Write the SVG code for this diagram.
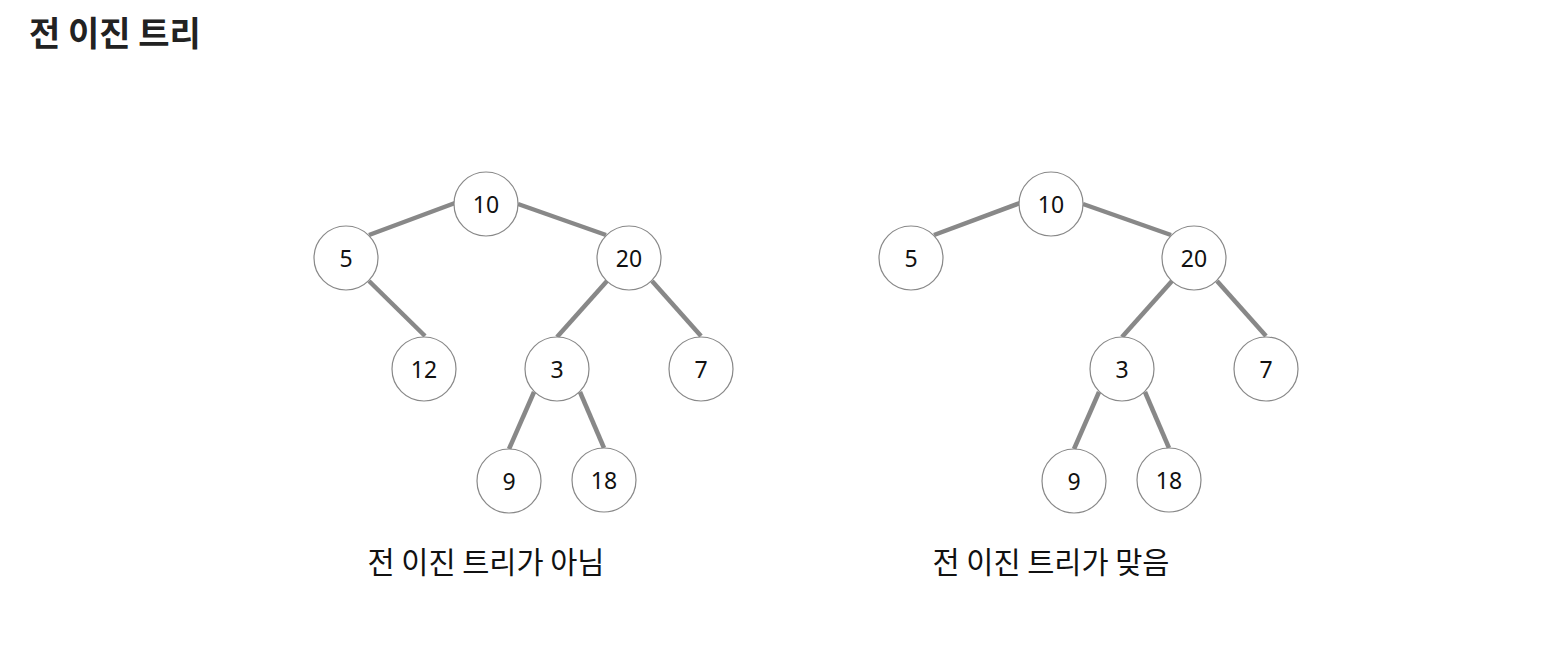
<svg xmlns="http://www.w3.org/2000/svg" width="1548" height="654" viewBox="0 0 1548 654">
<style>
.n circle{fill:#fff;stroke:#888;stroke-width:1.2}
.n text{font-family:"Noto Sans","Noto Sans CJK KR",sans-serif;font-size:23px;fill:#111;text-anchor:middle;dominant-baseline:central}
.e line{stroke:#888;stroke-width:4.5}
.lbl{font-family:"Noto Sans CJK KR",sans-serif;font-size:29.5px;fill:#111;text-anchor:middle}
.title{font-family:"Noto Sans CJK KR",sans-serif;font-size:34px;font-weight:bold;fill:#222}
</style>
<rect width="1548" height="654" fill="#fff"/>
<text class="title" x="29" y="46">전 이진 트리</text>
<g id="connectors" class="e">
<line x1="455" y1="203" x2="369" y2="235"/>
<line x1="518" y1="204" x2="606" y2="235"/>
<line x1="369" y1="281" x2="425" y2="336"/>
<line x1="607" y1="281" x2="557" y2="337"/>
<line x1="652" y1="281" x2="701" y2="336"/>
<line x1="534" y1="392" x2="509" y2="449"/>
<line x1="580" y1="392" x2="604" y2="448"/>
<line x1="1020" y1="203" x2="934" y2="235"/>
<line x1="1083" y1="204" x2="1171" y2="235"/>
<line x1="1172" y1="281" x2="1122" y2="337"/>
<line x1="1217" y1="281" x2="1266" y2="336"/>
<line x1="1099" y1="392" x2="1074" y2="449"/>
<line x1="1145" y1="392" x2="1169" y2="448"/>
</g>
<g id="L10" class="n"><circle cx="486" cy="204" r="32"/><text x="486" y="204">10</text></g>
<g id="L5" class="n"><circle cx="346" cy="258" r="32"/><text x="346" y="258">5</text></g>
<g id="L20" class="n"><circle cx="629" cy="258" r="32"/><text x="629" y="258">20</text></g>
<g id="L12" class="n"><circle cx="424" cy="369" r="32"/><text x="424" y="369">12</text></g>
<g id="L3" class="n"><circle cx="557" cy="369" r="32"/><text x="557" y="369">3</text></g>
<g id="L7" class="n"><circle cx="701" cy="369" r="32"/><text x="701" y="369">7</text></g>
<g id="L9" class="n"><circle cx="509" cy="481" r="32"/><text x="509" y="481">9</text></g>
<g id="L18" class="n"><circle cx="604" cy="480" r="32"/><text x="604" y="480">18</text></g>
<g id="R10" class="n"><circle cx="1051" cy="204" r="32"/><text x="1051" y="204">10</text></g>
<g id="R5" class="n"><circle cx="911" cy="258" r="32"/><text x="911" y="258">5</text></g>
<g id="R20" class="n"><circle cx="1194" cy="258" r="32"/><text x="1194" y="258">20</text></g>
<g id="R3" class="n"><circle cx="1122" cy="369" r="32"/><text x="1122" y="369">3</text></g>
<g id="R7" class="n"><circle cx="1266" cy="369" r="32"/><text x="1266" y="369">7</text></g>
<g id="R9" class="n"><circle cx="1074" cy="481" r="32"/><text x="1074" y="481">9</text></g>
<g id="R18" class="n"><circle cx="1169" cy="480" r="32"/><text x="1169" y="480">18</text></g>
<text class="lbl" x="486" y="573">전 이진 트리가 아님</text>
<text class="lbl" x="1051" y="573">전 이진 트리가 맞음</text>
</svg>
